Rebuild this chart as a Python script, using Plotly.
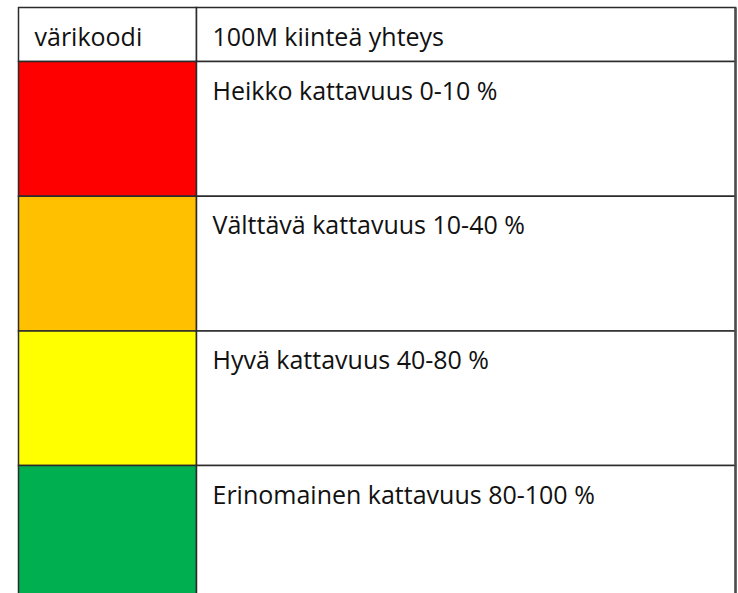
import plotly.graph_objects as go

header_labels = ["värikoodi", "100M kiinteä yhteys"]
color_codes = ["#FF0000", "#FFC000", "#FFFF00", "#00B050"]
descriptions = [
    "Heikko kattavuus 0-10 %",
    "Välttävä kattavuus 10-40 %",
    "Hyvä kattavuus 40-80 %",
    "Erinomainen kattavuus 80-100 %",
]

# layout constants (row unit ~ 134.7 px, column unit = 178 px)
W, H = 738, 593
ROW = 134.7
COL = 178.0
HEADER_H = 54 / ROW
RIGHT_W = 539 / COL
TEXT_DY = 32 / ROW
TEXT_DX = 16 / COL
LINE = dict(color="#2b2b2b", width=1.5)
FONT = dict(family="Open Sans", size=25, color="#111111")
LEFT_PX = 18.5    # left border position
TOP_PX = 7.5      # top border position

n = len(color_codes)
row_tops = list(range(n))

x_lo = -LEFT_PX / COL
x_hi = x_lo + W / COL
y_top = -HEADER_H - TOP_PX / ROW
y_bot = y_top + H / ROW

fig = go.Figure()

# header cells
fig.add_trace(go.Bar(
    x=[0.5, 1 + RIGHT_W / 2], y=[HEADER_H, HEADER_H], base=[-HEADER_H, -HEADER_H],
    width=[1, RIGHT_W], marker=dict(color="white", line=LINE),
    hoverinfo="skip", showlegend=False,
))
# colour-code cells
fig.add_trace(go.Bar(
    x=[0.5] * n, y=[1] * n, base=row_tops, width=[1] * n,
    marker=dict(color=color_codes, line=LINE),
    hoverinfo="skip", showlegend=False,
))
# description cells
fig.add_trace(go.Bar(
    x=[1 + RIGHT_W / 2] * n, y=[1] * n, base=row_tops, width=[RIGHT_W] * n,
    marker=dict(color="white", line=LINE),
    hoverinfo="skip", showlegend=False,
))
# outer right border (slightly heavier grey)
fig.add_trace(go.Scatter(
    x=[1 + RIGHT_W, 1 + RIGHT_W], y=[-HEADER_H, y_bot],
    mode="lines", line=dict(color="#4d4d4d", width=2.5),
    hoverinfo="skip", showlegend=False,
))
# header text
fig.add_trace(go.Scatter(
    x=[TEXT_DX, 1 + TEXT_DX], y=[-HEADER_H + TEXT_DY] * 2,
    mode="text", text=header_labels, textposition="middle right",
    textfont=FONT, hoverinfo="skip", showlegend=False, cliponaxis=False,
))
# description text
fig.add_trace(go.Scatter(
    x=[1 + TEXT_DX] * n, y=[t + TEXT_DY for t in row_tops],
    mode="text", text=descriptions, textposition="middle right",
    textfont=FONT, hoverinfo="skip", showlegend=False, cliponaxis=False,
))

fig.update_layout(
    width=W, height=H,
    margin=dict(l=0, r=0, t=0, b=0),
    paper_bgcolor="white", plot_bgcolor="white",
    barmode="overlay",
    xaxis=dict(range=[x_lo, x_hi], visible=False, fixedrange=True),
    yaxis=dict(range=[y_bot, y_top], visible=False, fixedrange=True),
)
fig.write_html(
    "out.html",
    config={"displayModeBar": False, "staticPlot": True},
    post_script="document.body.style.margin='0';document.body.style.overflow='hidden';",
)
